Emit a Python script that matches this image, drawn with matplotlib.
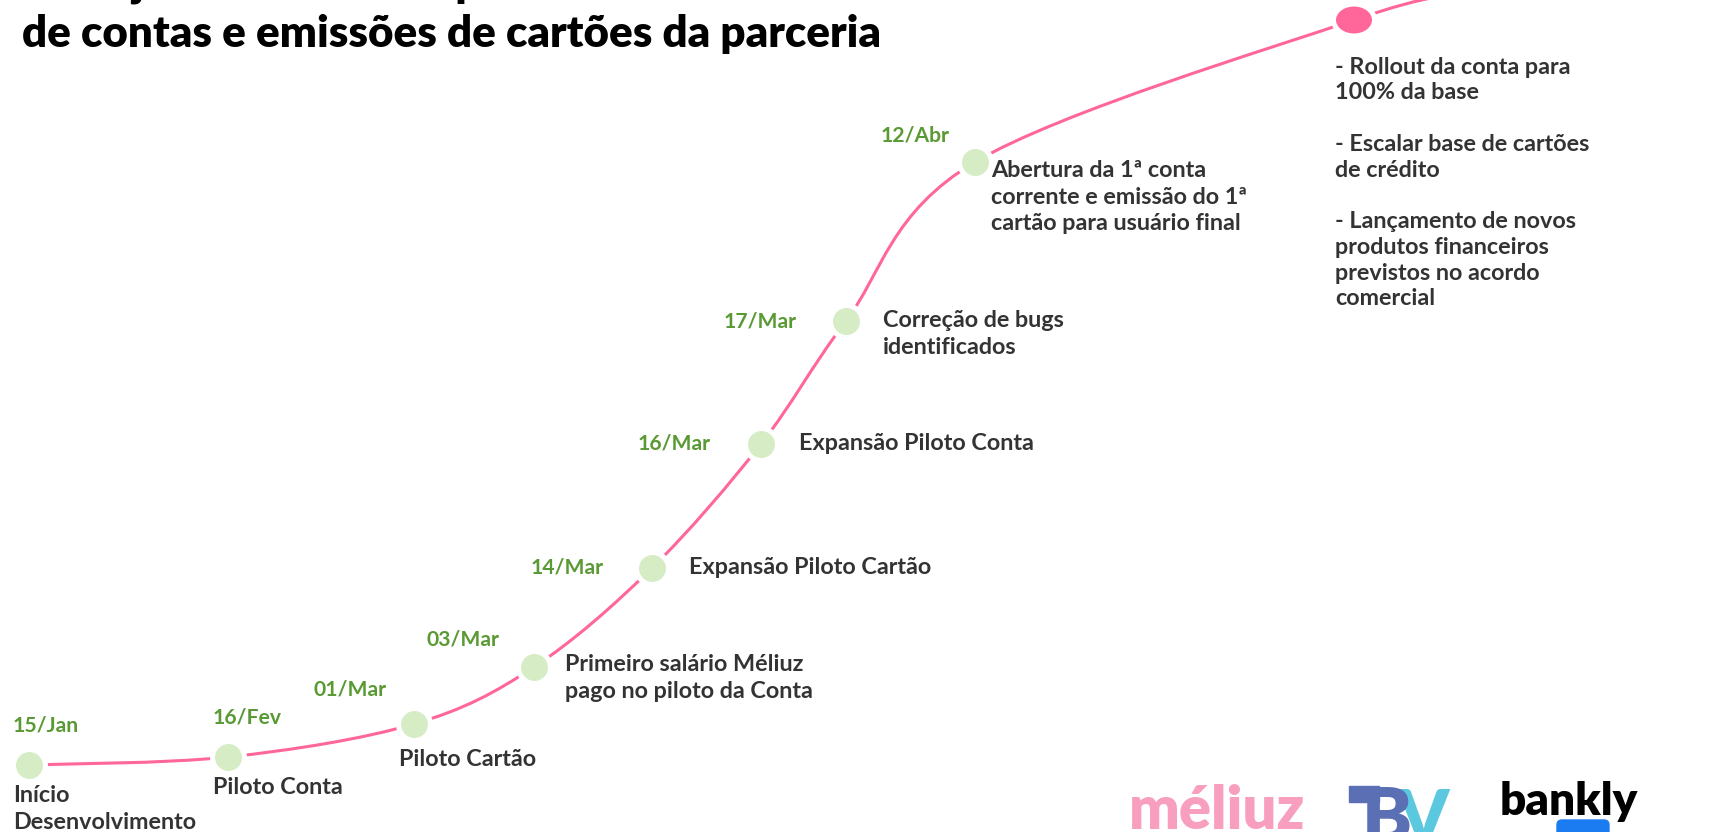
import numpy as np
import matplotlib.pyplot as plt
from matplotlib.path import Path
from matplotlib.patches import PathPatch, Ellipse, FancyBboxPatch

plt.rcParams['font.family'] = ['Lato', 'DejaVu Sans']

# marcos do cronograma (posicao no desenho, px)
datas = ["15/Jan", "16/Fev", "01/Mar", "03/Mar", "14/Mar", "16/Mar", "17/Mar", "12/Abr"]
eventos = [
    "Início\nDesenvolvimento",
    "Piloto Conta",
    "Piloto Cartão",
    "Primeiro salário Méliuz\npago no piloto da Conta",
    "Expansão Piloto Cartão",
    "Expansão Piloto Conta",
    "Correção de bugs\nidentificados",
    "Abertura da 1ª conta\ncorrente e emissão do 1ª\ncartão para usuário final",
]
marco_x = [29, 228, 414, 534, 652, 761, 846, 975]
marco_y = [765, 757, 724, 667, 568, 444, 321, 162]
proximo_x, proximo_y = 1354, 20
proximos_passos = ("- Rollout da conta para\n100% da base\n\n"
                   "- Escalar base de cartões\nde crédito\n\n"
                   "- Lançamento de novos\nprodutos financeiros\nprevistos no acordo\ncomercial")

# onde vai cada rotulo em relacao ao marco: (dx, dy, ha)
pos_data = [(-16, -40, 'left'), (-15, -40, 'left'), (-27, -35, 'right'), (-35, -28, 'right'),
            (-48, 0, 'right'), (-50, 0, 'right'), (-49, 1, 'right'), (-26, -27, 'right')]
pos_evento = [(-16, 44, 'left'), (-15, 31, 'left'), (-15, 36, 'left'), (31, 11, 'left'),
              (37, 0, 'left'), (38, 0, 'left'), (37, 13, 'left'), (16, 35, 'left')]

ROSA = '#ff6699'
VERDE = '#d5ecc5'
VERDE_TXT = '#5a9a34'
CINZA = '#333333'
FS = 16.8

W, H = 1713, 832
fig = plt.figure(figsize=(W / 100, H / 100), dpi=100)
ax = fig.add_axes([0, 0, 1, 1])
ax.set_xlim(0, W)
ax.set_ylim(H, 0)
ax.axis('off')

# curva suave (catmull-rom -> bezier) passando pelos marcos
px = marco_x + [proximo_x, 1470]
py = marco_y + [proximo_y, -8]
pts = np.column_stack([px, py]).astype(float)
ext = np.vstack([pts[0], pts, pts[-1]])
verts = [pts[0]]
codes = [Path.MOVETO]
for i in range(1, len(ext) - 2):
    p0, p1, p2, p3 = ext[i - 1], ext[i], ext[i + 1], ext[i + 2]
    verts += [p1 + (p2 - p0) / 6, p2 - (p3 - p1) / 6, p2]
    codes += [Path.CURVE4] * 3
ax.add_patch(PathPatch(Path(verts, codes), facecolor='none', edgecolor=ROSA, lw=2.2, zorder=1))

ax.scatter(marco_x, marco_y, s=23 ** 2, color=VERDE, edgecolors='white', linewidths=3.6, zorder=3)
ax.add_patch(Ellipse((proximo_x, proximo_y), 41, 32, facecolor=ROSA, edgecolor='white', lw=3.6, zorder=3))

for i in range(len(datas)):
    dx, dy, ha = pos_data[i]
    ax.text(marco_x[i] + dx, marco_y[i] + dy, datas[i], color=VERDE_TXT, fontsize=15.2,
            fontweight='bold', ha=ha, va='center')
    dx, dy, ha = pos_evento[i]
    ax.text(marco_x[i] + dx, marco_y[i] + dy, eventos[i], color=CINZA, fontsize=FS,
            fontweight='bold', ha=ha, va='center', linespacing=1.3)

ax.text(1335, 183, proximos_passos, color=CINZA, fontsize=FS, fontweight='bold',
        ha='left', va='center', linespacing=1.28)

# titulo (primeira linha cortada no topo)
ax.text(22, -3, "Planejamento da fase piloto", color='black', fontsize=31.6,
        fontweight='heavy', ha='left', va='baseline')
ax.text(22, 47, "de contas e emissões de cartões da parceria", color='black', fontsize=31.6,
        fontweight='heavy', ha='left', va='baseline')

# logos
ax.text(1129, 829, "méliuz", color='#f89fc0', fontsize=43, fontweight='heavy',
        ha='left', va='baseline')
ax.add_patch(plt.Rectangle((1349, 786), 30, 16, color='#5b6fb5', zorder=2))
ax.text(1398, 842, "V", color='#5bc8e0', fontsize=52, fontweight='heavy',
        ha='left', va='baseline', zorder=2)
ax.text(1362, 842, "B", color='#5b6fb5', fontsize=54, fontweight='heavy',
        ha='left', va='baseline', zorder=3)
ax.text(1500, 815, "bankly", color='black', fontsize=33, fontweight='heavy',
        ha='left', va='baseline')
ax.add_patch(FancyBboxPatch((1557, 820), 52, 16, boxstyle='round,pad=0,rounding_size=5',
                            color='#1a7cf0'))

fig.savefig('out.png', dpi=100)
